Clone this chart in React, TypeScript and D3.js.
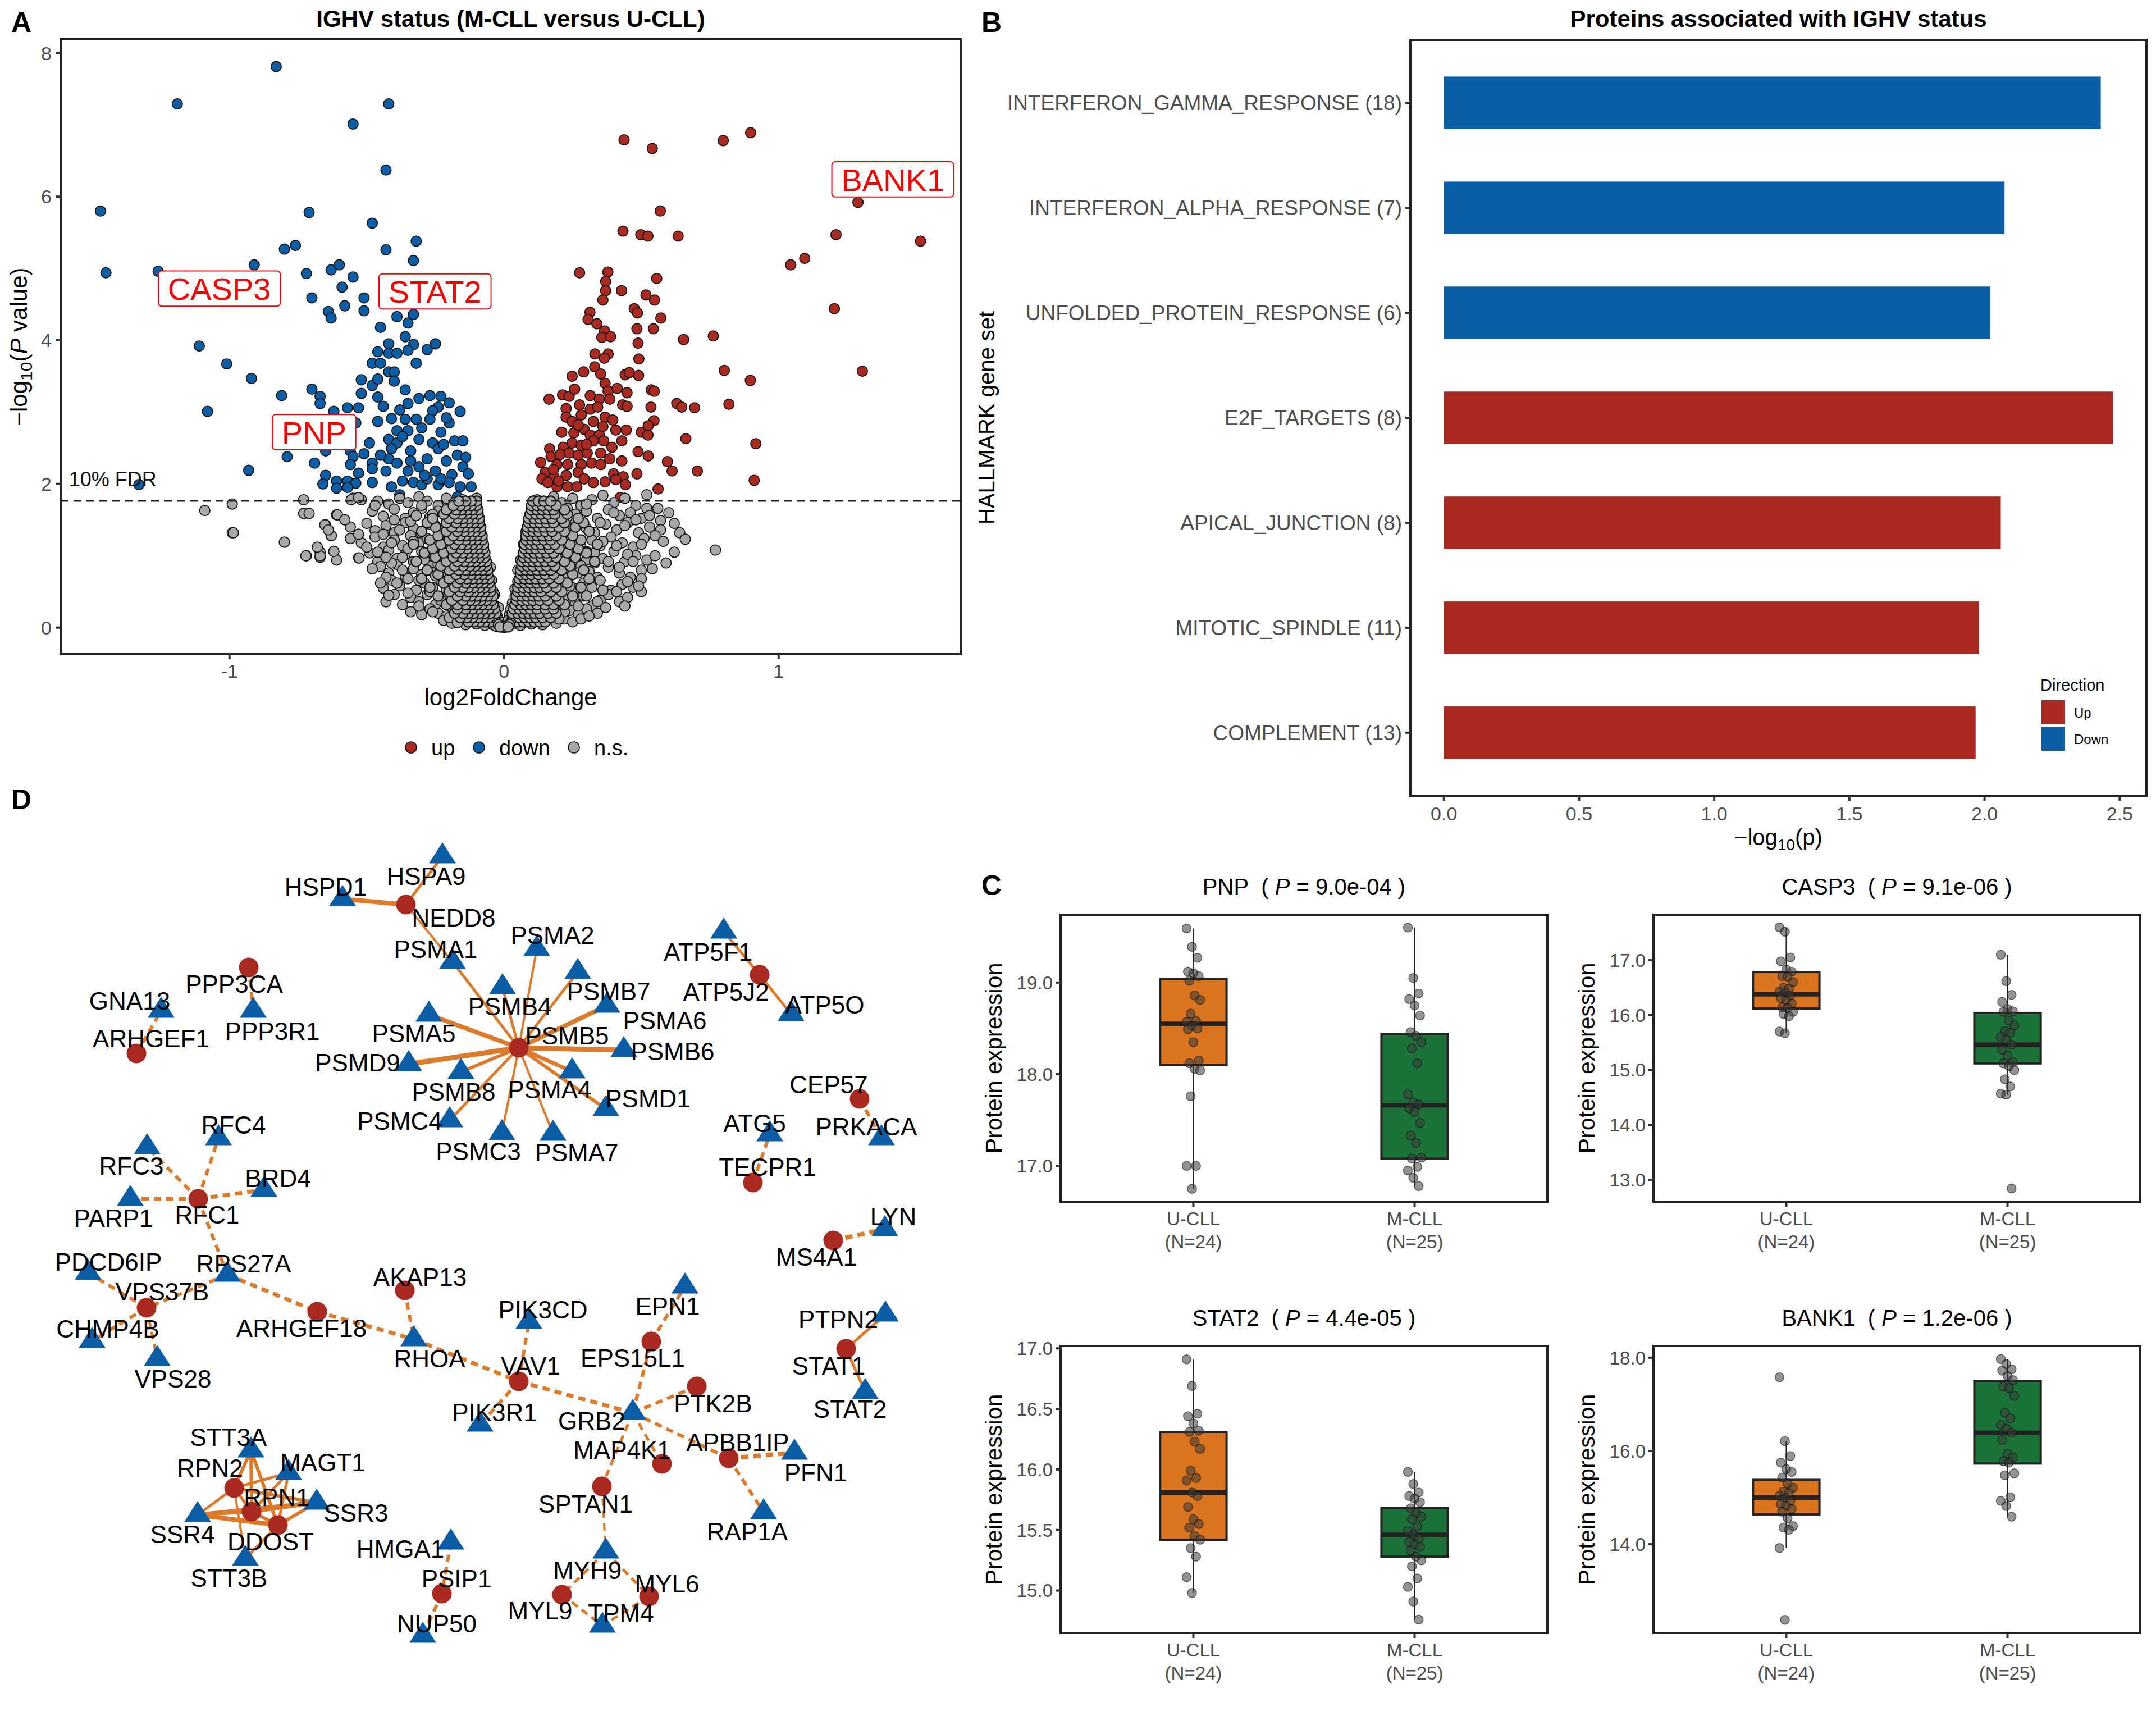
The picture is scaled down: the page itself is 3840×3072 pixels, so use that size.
import React, { useEffect } from "react";
import * as d3 from "d3";

const FONT = "'Liberation Sans', Arial, Helvetica, sans-serif";
const RED = "#AA2920";
const BLUE = "#0B5DA6";
const GREY = "#A8A8A8";
const ORANGE = "#DA741F";
const GREEN = "#1C7339";
const EDGE = "#DD7B2B";
const AXIS_TXT = "#4D4D4D";

// ---------- panel A: volcano ----------
const fdrLine = 1.765;

const upPoints = [
  [0.437, 6.79], [0.54, 6.67], [0.798, 6.78], [0.898, 6.89], [1.289, 5.92], [0.569, 5.8], [0.433, 5.52],
  [0.498, 5.47], [0.524, 5.45], [0.634, 5.45], [1.209, 5.47], [1.517, 5.38], [1.044, 5.05], [1.095, 5.14],
  [1.203, 4.44], [1.305, 3.57], [0.275, 4.94], [0.378, 4.95], [0.37, 4.82], [0.37, 4.69], [0.36, 4.56],
  [0.428, 4.69], [0.556, 4.86], [0.517, 4.63], [0.548, 4.56], [0.474, 4.44], [0.486, 4.38], [0.571, 4.31],
  [0.313, 4.39], [0.306, 4.29], [0.338, 4.23], [0.366, 4.13], [0.356, 4.04], [0.388, 4.05], [0.484, 4.16],
  [0.544, 4.16], [0.488, 3.96], [0.654, 4.01], [0.762, 4.06], [0.491, 3.74], [0.331, 3.81], [0.379, 3.81],
  [0.365, 3.75], [0.33, 3.63], [0.29, 3.56], [0.248, 3.5], [0.352, 3.53], [0.441, 3.52], [0.456, 3.55],
  [0.49, 3.51], [0.802, 3.58], [0.897, 3.44], [0.164, 3.18], [0.213, 3.24], [0.237, 3.22], [0.257, 3.32],
  [0.314, 3.23], [0.368, 3.4], [0.379, 3.29], [0.412, 3.33], [0.448, 3.27], [0.536, 3.31], [0.547, 3.29],
  [0.347, 3.18], [0.385, 3.18], [0.226, 3.05], [0.275, 3.1], [0.314, 3.04], [0.341, 3.07], [0.432, 3.1],
  [0.448, 3.08], [0.535, 3.07], [0.629, 3.12], [0.647, 3.07], [0.694, 3.06], [0.819, 3.11], [0.226, 2.93],
  [0.248, 2.87], [0.281, 2.96], [0.325, 2.87], [0.368, 2.93], [0.396, 2.89], [0.546, 2.88], [0.21, 2.72],
  [0.254, 2.71], [0.292, 2.76], [0.314, 2.68], [0.347, 2.68], [0.407, 2.75], [0.445, 2.75], [0.5, 2.72],
  [0.525, 2.81], [0.524, 2.68], [0.662, 2.63], [0.917, 2.56], [0.166, 2.49], [0.215, 2.51], [0.248, 2.57],
  [0.281, 2.54], [0.325, 2.6], [0.363, 2.6], [0.393, 2.51], [0.429, 2.6], [0.133, 2.3], [0.171, 2.38],
  [0.204, 2.41], [0.237, 2.43], [0.27, 2.4], [0.303, 2.43], [0.352, 2.43], [0.385, 2.35], [0.429, 2.32],
  [0.488, 2.45], [0.525, 2.39], [0.595, 2.31], [0.612, 2.18], [0.704, 2.18], [0.911, 2.05], [0.149, 2.16],
  [0.193, 2.27], [0.232, 2.27], [0.281, 2.27], [0.319, 2.29], [0.352, 2.27], [0.399, 2.14], [0.434, 2.1],
  [0.484, 2.14], [0.138, 2.07], [0.182, 2.1], [0.226, 2.12], [0.27, 2.16], [0.292, 2.07], [0.325, 2.02],
  [0.368, 2.03], [0.407, 2.06], [0.442, 1.99], [0.16, 2.02], [0.193, 1.96], [0.232, 1.96], [0.265, 1.96],
  [0.561, 1.93], [0.423, 1.81], [0.199, 2.04], [0.3, 2.55], [0.27, 2.82], [0.36, 2.8], [0.18, 2.2],
];

const downPoints = [
  [-0.83, 7.81], [-1.19, 7.29], [-0.42, 7.29], [-0.55, 7.01], [-0.43, 6.37], [-1.47, 5.8], [-0.71, 5.78],
  [-0.48, 5.63], [-0.32, 5.38], [-0.8, 5.27], [-0.76, 5.32], [-0.43, 5.26], [-0.33, 5.11], [-1.45, 4.94],
  [-1.26, 4.96], [-0.91, 5.05], [-0.72, 4.93], [-0.63, 4.98], [-0.6, 5.05], [-0.55, 4.88], [-0.59, 4.74],
  [-0.7, 4.59], [-0.58, 4.48], [-0.51, 4.59], [-0.51, 4.41], [-0.64, 4.4], [-0.63, 4.31], [-0.39, 4.33],
  [-0.33, 4.36], [-0.35, 4.24], [-0.45, 4.18], [-0.36, 4.05], [-0.42, 3.95], [-0.33, 3.94], [-0.25, 3.95],
  [-0.28, 3.87], [-0.46, 3.84], [-0.42, 3.82], [-0.39, 3.82], [-0.35, 3.86], [-0.32, 3.68], [-0.48, 3.68],
  [-0.45, 3.68], [-0.42, 3.56], [-0.4, 3.56], [-0.4, 3.43], [-1.11, 3.92], [-1.01, 3.67], [-0.92, 3.47],
  [-0.81, 3.23], [-0.7, 3.32], [-0.67, 3.22], [-0.67, 3.12], [-1.08, 3.01], [-0.52, 3.45], [-0.48, 3.37],
  [-0.46, 3.46], [-0.52, 3.26], [-0.46, 3.21], [-0.36, 3.31], [-0.31, 3.19], [-0.27, 3.23], [-0.23, 3.22],
  [-0.2, 3.13], [-0.16, 3.01], [-0.53, 3.06], [-0.57, 3.06], [-0.62, 3.01], [-0.44, 3.08], [-0.38, 3.03],
  [-0.35, 3.12], [-0.24, 3.07], [-0.26, 3.02], [-0.46, 2.87], [-0.41, 2.91], [-0.32, 2.9], [-0.27, 2.9],
  [-0.2, 2.85], [-0.23, 2.72], [-0.39, 2.74], [-0.35, 2.74], [-0.54, 2.85], [-0.42, 2.62], [-0.39, 2.57],
  [-0.31, 2.62], [-0.26, 2.57], [-0.18, 2.6], [-0.15, 2.6], [-0.49, 2.57], [-0.65, 2.46], [-0.56, 2.46],
  [-0.41, 2.49], [-0.34, 2.46], [-0.24, 2.49], [-0.17, 2.4], [-0.79, 2.38], [-0.69, 2.29], [-0.55, 2.38],
  [-0.51, 2.42], [-0.48, 2.29], [-0.42, 2.35], [-0.39, 2.29], [-0.34, 2.32], [-0.28, 2.35], [-0.21, 2.32],
  [-0.14, 2.37], [-0.56, 2.27], [-0.15, 2.24], [-0.53, 2.15], [-0.48, 2.21], [-0.43, 2.18], [-0.35, 2.18],
  [-0.31, 2.24], [-0.25, 2.18], [-0.19, 2.13], [-0.13, 2.14], [-0.93, 2.19], [-0.65, 2.12], [-0.66, 2.0],
  [-0.61, 2.04], [-0.57, 2.04], [-0.54, 2.01], [-0.61, 1.94], [-0.57, 1.95], [-1.33, 1.99], [-0.48, 2.02],
  [-0.41, 1.96], [-0.37, 2.04], [-0.33, 2.02], [-0.3, 1.99], [-0.24, 1.99], [-0.2, 2.02], [-0.16, 1.96],
  [-0.12, 1.96], [-0.38, 1.85], [-0.17, 1.82], [-0.28, 2.07], [-0.23, 2.07], [-0.37, 2.66], [-0.3, 2.78],
  [-0.22, 2.55], [-0.45, 2.4], [-0.29, 2.12], [-0.36, 2.9], [-0.21, 2.92],
];

const nsPoints = [
  [-0.73, 1.78], [-0.55, 1.8], [-0.52, 1.78], [-0.46, 1.76], [-0.42, 1.72], [-0.38, 1.8], [-0.35, 1.74],
  [-0.31, 1.82], [-0.28, 1.76], [-0.24, 1.7], [-0.21, 1.8], [-0.18, 1.74], [-0.15, 1.78], [-0.12, 1.72],
  [-0.1, 1.8], [0.12, 1.78], [0.15, 1.72], [0.18, 1.82], [0.21, 1.74], [0.25, 1.8], [0.28, 1.7], [0.32, 1.78],
  [0.36, 1.84], [0.4, 1.74], [0.44, 1.8], [0.48, 1.7], [0.52, 1.85], [0.56, 1.66],
  [-0.99, 1.72], [-1.09, 1.63], [-0.73, 1.59], [-0.71, 1.59], [-0.61, 1.57], [-0.48, 1.62], [-0.44, 1.55],
  [-0.4, 1.65], [-0.36, 1.52], [-0.33, 1.6], [-0.3, 1.66], [-0.27, 1.54], [-0.24, 1.62], [-0.21, 1.56],
  [-0.18, 1.64], [-0.15, 1.52], [-0.13, 1.6], [-0.11, 1.66], [-0.095, 1.55], [0.1, 1.58], [0.12, 1.66],
  [0.14, 1.52], [0.17, 1.62], [0.2, 1.55], [0.23, 1.66], [0.26, 1.58], [0.3, 1.62], [0.34, 1.52], [0.38, 1.64],
  [0.42, 1.56], [0.46, 1.6], [0.5, 1.52], [0.57, 1.49], [0.52, 1.66],
  [-0.99, 1.32], [-0.65, 1.43], [-0.56, 1.4], [-0.5, 1.45], [-0.47, 1.35], [-0.43, 1.42], [-0.4, 1.32],
  [-0.36, 1.46], [-0.33, 1.38], [-0.3, 1.3], [-0.27, 1.44], [-0.24, 1.36], [-0.21, 1.48], [-0.19, 1.32],
  [-0.16, 1.42], [-0.14, 1.35], [-0.12, 1.46], [-0.1, 1.38], [-0.085, 1.3], [0.08, 1.34], [0.1, 1.44],
  [0.12, 1.36], [0.14, 1.48], [0.17, 1.32], [0.2, 1.42], [0.23, 1.35], [0.26, 1.46], [0.3, 1.38], [0.33, 1.32],
  [0.37, 1.44], [0.41, 1.36], [0.45, 1.46], [0.49, 1.32], [0.53, 1.4], [0.64, 1.32], [0.57, 1.36],
  [-0.8, 1.19], [-0.63, 1.28], [-0.56, 1.24], [-0.52, 1.18], [-0.47, 1.26], [-0.44, 1.12], [-0.4, 1.22],
  [-0.37, 1.14], [-0.34, 1.28], [-0.31, 1.18], [-0.28, 1.24], [-0.25, 1.12], [-0.22, 1.26], [-0.2, 1.16],
  [-0.17, 1.22], [-0.15, 1.12], [-0.13, 1.28], [-0.11, 1.18], [-0.09, 1.24], [-0.075, 1.12], [0.07, 1.16],
  [0.085, 1.26], [0.1, 1.12], [0.12, 1.22], [0.14, 1.28], [0.16, 1.14], [0.19, 1.24], [0.22, 1.16],
  [0.25, 1.28], [0.28, 1.12], [0.32, 1.22], [0.35, 1.14], [0.39, 1.26], [0.43, 1.18], [0.47, 1.12],
  [0.51, 1.24], [0.66, 1.23], [0.77, 1.08],
  [-0.72, 1.0], [-0.67, 1.05], [-0.67, 0.98], [-0.62, 1.06], [-0.61, 0.94], [-0.53, 0.97], [-0.49, 1.04],
  [-0.46, 0.92], [-0.42, 1.08], [-0.39, 0.96], [-0.36, 1.02], [-0.33, 0.92], [-0.3, 1.06], [-0.27, 0.98],
  [-0.24, 0.9], [-0.22, 1.04], [-0.19, 0.94], [-0.17, 1.08], [-0.15, 0.98], [-0.13, 0.92], [-0.11, 1.04],
  [-0.09, 0.96], [-0.075, 1.06], [-0.065, 0.92], [0.06, 0.94], [0.07, 1.04], [0.085, 0.98], [0.1, 1.08],
  [0.12, 0.92], [0.14, 1.02], [0.16, 0.96], [0.18, 1.06], [0.21, 0.92], [0.24, 1.0], [0.27, 1.08], [0.3, 0.94],
  [0.33, 1.04], [0.36, 0.96], [0.4, 1.06], [0.44, 0.92], [0.48, 1.0], [0.52, 0.94], [0.59, 0.9], [0.62, 1.05],
  [-0.45, 0.85], [-0.42, 0.76], [-0.39, 0.88], [-0.36, 0.72], [-0.33, 0.82], [-0.3, 0.74], [-0.27, 0.86],
  [-0.25, 0.78], [-0.22, 0.7], [-0.2, 0.84], [-0.18, 0.76], [-0.16, 0.88], [-0.14, 0.72], [-0.12, 0.82],
  [-0.1, 0.74], [-0.085, 0.86], [-0.07, 0.78], [-0.06, 0.7], [-0.05, 0.84], [0.05, 0.8], [0.06, 0.72],
  [0.07, 0.88], [0.085, 0.76], [0.1, 0.84], [0.12, 0.72], [0.14, 0.86], [0.16, 0.78], [0.19, 0.7], [0.22, 0.82],
  [0.25, 0.74], [0.28, 0.86], [0.31, 0.78], [0.34, 0.7], [0.38, 0.84], [0.42, 0.76], [0.46, 0.7], [0.5, 0.8],
  [-0.44, 0.55], [-0.41, 0.66], [-0.38, 0.58], [-0.35, 0.68], [-0.32, 0.52], [-0.29, 0.62], [-0.26, 0.56],
  [-0.23, 0.66], [-0.21, 0.52], [-0.19, 0.6], [-0.17, 0.68], [-0.15, 0.54], [-0.13, 0.64], [-0.11, 0.56],
  [-0.095, 0.66], [-0.08, 0.52], [-0.065, 0.6], [-0.05, 0.56], [-0.045, 0.66], [-0.04, 0.5], [0.04, 0.54],
  [0.05, 0.64], [0.06, 0.58], [0.075, 0.68], [0.09, 0.52], [0.11, 0.62], [0.13, 0.56], [0.15, 0.66],
  [0.17, 0.52], [0.2, 0.6], [0.23, 0.68], [0.26, 0.54], [0.29, 0.62], [0.32, 0.56], [0.35, 0.66], [0.39, 0.52],
  [0.43, 0.6], [0.47, 0.56], [0.5, 0.5],
  [-0.43, 0.36], [-0.4, 0.46], [-0.37, 0.32], [-0.34, 0.42], [-0.31, 0.36], [-0.28, 0.46], [-0.25, 0.32],
  [-0.22, 0.42], [-0.2, 0.34], [-0.18, 0.46], [-0.16, 0.38], [-0.14, 0.3], [-0.12, 0.44], [-0.1, 0.36],
  [-0.085, 0.46], [-0.07, 0.32], [-0.055, 0.4], [-0.045, 0.34], [-0.035, 0.46], [-0.03, 0.3], [0.03, 0.34],
  [0.04, 0.44], [0.05, 0.3], [0.06, 0.4], [0.075, 0.34], [0.09, 0.46], [0.11, 0.32], [0.13, 0.42], [0.15, 0.36],
  [0.17, 0.46], [0.2, 0.32], [0.23, 0.4], [0.26, 0.34], [0.29, 0.44], [0.32, 0.3], [0.35, 0.38], [0.38, 0.46],
  [0.42, 0.36], [0.45, 0.42],
  [-0.34, 0.22], [-0.3, 0.18], [-0.27, 0.26], [-0.24, 0.2], [-0.21, 0.16], [-0.19, 0.28], [-0.17, 0.22],
  [-0.15, 0.16], [-0.13, 0.26], [-0.11, 0.2], [-0.095, 0.28], [-0.08, 0.16], [-0.065, 0.24], [-0.05, 0.18],
  [-0.04, 0.26], [-0.03, 0.2], [-0.025, 0.16], [-0.02, 0.28], [0.02, 0.18], [0.025, 0.26], [0.035, 0.22],
  [0.045, 0.16], [0.055, 0.28], [0.07, 0.2], [0.085, 0.26], [0.1, 0.16], [0.12, 0.24], [0.14, 0.18],
  [0.16, 0.28], [0.18, 0.2], [0.21, 0.16], [0.24, 0.24], [0.27, 0.18], [0.3, 0.26], [0.34, 0.2], [0.37, 0.28],
  [-0.22, 0.1], [-0.19, 0.06], [-0.16, 0.12], [-0.14, 0.04], [-0.12, 0.09], [-0.1, 0.05], [-0.085, 0.12],
  [-0.07, 0.03], [-0.06, 0.08], [-0.05, 0.12], [-0.04, 0.04], [-0.035, 0.09], [-0.03, 0.02], [-0.025, 0.06],
  [-0.02, 0.11], [-0.015, 0.03], [-0.01, 0.07], [-0.005, 0.01], [0, 0], [0.005, 0.02], [0.01, 0.06],
  [0.015, 0.1], [0.02, 0.03], [0.025, 0.08], [0.03, 0.13], [0.04, 0.05], [0.05, 0.1], [0.06, 0.03],
  [0.07, 0.08], [0.085, 0.12], [0.1, 0.05], [0.12, 0.1], [0.14, 0.04], [0.16, 0.11], [0.19, 0.06], [0.22, 0.12],
  [0.25, 0.08],
  [-0.722, 1.0], [-0.62, 1.06], [-0.653, 1.43], [-0.629, 1.28], [-0.607, 1.57], [-0.528, 0.97],
  [-0.557, 1.78], [-0.53, 1.81], [-0.56, 1.24], [-0.986, 1.32], [-0.8, 1.19], [-0.67, 1.0],
  [-0.3, 1.7], [-0.26, 1.58], [-0.34, 1.48], [-0.38, 1.36], [-0.44, 1.3], [-0.41, 1.18], [-0.46, 1.05],
  [-0.5, 1.12], [-0.35, 1.1], [-0.29, 0.95], [-0.41, 0.9], [-0.37, 0.8], [-0.43, 0.7], [-0.31, 0.66],
  [-0.39, 0.62], [-0.27, 0.5], [-0.35, 0.48], [-0.42, 0.45], [-0.23, 0.38], [-0.31, 0.3], [-0.26, 0.22],
  [-0.2, 0.14], [-0.17, 0.07], [-0.48, 0.82], [-0.45, 0.62], [-0.53, 1.3], [-0.58, 1.5], [-0.68, 1.12],
  [-0.64, 1.36], [-0.47, 1.7], [-0.32, 1.56], [-0.25, 1.42], [-0.22, 1.2], [-0.33, 1.2], [-0.24, 0.88],
  [-0.2, 0.58], [-0.25, 0.72], [-0.37, 0.98], [-0.43, 0.98], [-0.4, 1.5],
  [0.3, 1.72], [0.27, 1.5], [0.35, 1.46], [0.4, 1.6], [0.44, 1.42], [0.48, 1.5], [0.53, 1.56], [0.55, 1.28],
  [0.5, 1.16], [0.45, 1.02], [0.41, 1.14], [0.36, 1.2], [0.3, 1.06], [0.25, 1.16], [0.33, 0.9], [0.38, 0.92],
  [0.42, 0.84], [0.47, 0.92], [0.5, 0.68], [0.45, 0.64], [0.41, 0.5], [0.36, 0.52], [0.3, 0.44], [0.34, 0.36],
  [0.27, 0.3], [0.22, 0.22], [0.2, 0.12], [0.28, 0.12], [0.31, 0.16], [0.24, 0.58], [0.27, 0.76], [0.22, 0.96],
  [0.24, 1.34], [0.21, 1.58], [0.6, 1.6], [0.62, 1.45], [0.58, 1.2], [0.55, 1.0], [0.54, 0.82], [0.49, 0.58],
  [0.44, 0.3],
];

// dense inner arms of the V (non-significant proteins close to zero fold change)
const nsDense = [
  [-0.03, 0.08], [-0.05, 0.08], [-0.07, 0.08], [-0.09, 0.08], [-0.11, 0.08], [-0.13, 0.08],
  [0.03, 0.08], [0.05, 0.08], [0.07, 0.08], [0.09, 0.08], [0.11, 0.08], [0.13, 0.08], [0.15, 0.08],
  [-0.035, 0.14], [-0.055, 0.14], [-0.075, 0.14], [-0.095, 0.14], [-0.115, 0.14], [-0.135, 0.14], [-0.16, 0.14],
  [0.035, 0.14], [0.055, 0.14], [0.075, 0.14], [0.095, 0.14], [0.115, 0.14], [0.14, 0.14], [0.17, 0.14],
  [-0.03, 0.2], [-0.05, 0.2], [-0.07, 0.2], [-0.09, 0.2], [-0.11, 0.2], [-0.13, 0.2], [-0.15, 0.2], [-0.18, 0.2],
  [0.03, 0.2], [0.05, 0.2], [0.07, 0.2], [0.09, 0.2], [0.11, 0.2], [0.13, 0.2], [0.16, 0.2], [0.19, 0.2],
  [-0.035, 0.26], [-0.055, 0.26], [-0.075, 0.26], [-0.095, 0.26], [-0.115, 0.26], [-0.14, 0.26], [-0.17, 0.26],
  [0.035, 0.26], [0.055, 0.26], [0.075, 0.26], [0.095, 0.26], [0.12, 0.26], [0.15, 0.26], [0.18, 0.26],
  [-0.04, 0.32], [-0.06, 0.32], [-0.08, 0.32], [-0.1, 0.32], [-0.12, 0.32], [-0.14, 0.32], [-0.17, 0.32], [-0.21, 0.32],
  [0.04, 0.32], [0.06, 0.32], [0.08, 0.32], [0.1, 0.32], [0.12, 0.32], [0.15, 0.32], [0.18, 0.32], [0.22, 0.32],
  [-0.045, 0.38], [-0.065, 0.38], [-0.085, 0.38], [-0.105, 0.38], [-0.125, 0.38], [-0.15, 0.38], [-0.19, 0.38],
  [0.045, 0.38], [0.065, 0.38], [0.085, 0.38], [0.105, 0.38], [0.13, 0.38], [0.16, 0.38], [0.2, 0.38],
  [-0.04, 0.44], [-0.06, 0.44], [-0.08, 0.44], [-0.1, 0.44], [-0.12, 0.44], [-0.14, 0.44], [-0.17, 0.44], [-0.24, 0.44],
  [0.045, 0.44], [0.065, 0.44], [0.085, 0.44], [0.105, 0.44], [0.125, 0.44], [0.15, 0.44], [0.19, 0.44], [0.25, 0.44],
  [-0.05, 0.5], [-0.07, 0.5], [-0.09, 0.5], [-0.11, 0.5], [-0.13, 0.5], [-0.16, 0.5], [-0.2, 0.5],
  [0.05, 0.5], [0.07, 0.5], [0.09, 0.5], [0.11, 0.5], [0.135, 0.5], [0.17, 0.5], [0.21, 0.5],
  [-0.05, 0.56], [-0.07, 0.56], [-0.09, 0.56], [-0.11, 0.56], [-0.13, 0.56], [-0.15, 0.56], [-0.18, 0.56], [-0.27, 0.56],
  [0.05, 0.56], [0.07, 0.56], [0.09, 0.56], [0.11, 0.56], [0.13, 0.56], [0.155, 0.56], [0.19, 0.56], [0.28, 0.56],
  [-0.055, 0.62], [-0.075, 0.62], [-0.095, 0.62], [-0.115, 0.62], [-0.14, 0.62], [-0.17, 0.62], [-0.22, 0.62],
  [0.055, 0.62], [0.075, 0.62], [0.095, 0.62], [0.12, 0.62], [0.145, 0.62], [0.18, 0.62], [0.23, 0.62],
  [-0.055, 0.68], [-0.075, 0.68], [-0.095, 0.68], [-0.115, 0.68], [-0.135, 0.68], [-0.16, 0.68], [-0.2, 0.68], [-0.3, 0.68],
  [0.055, 0.68], [0.075, 0.68], [0.095, 0.68], [0.115, 0.68], [0.14, 0.68], [0.165, 0.68], [0.2, 0.68], [0.31, 0.68],
  [-0.06, 0.74], [-0.08, 0.74], [-0.1, 0.74], [-0.12, 0.74], [-0.145, 0.74], [-0.175, 0.74], [-0.24, 0.74],
  [0.06, 0.74], [0.08, 0.74], [0.1, 0.74], [0.125, 0.74], [0.15, 0.74], [0.18, 0.74], [0.25, 0.74],
  [-0.06, 0.8], [-0.08, 0.8], [-0.1, 0.8], [-0.12, 0.8], [-0.14, 0.8], [-0.165, 0.8], [-0.2, 0.8], [-0.28, 0.8],
  [0.06, 0.8], [0.08, 0.8], [0.1, 0.8], [0.12, 0.8], [0.145, 0.8], [0.17, 0.8], [0.21, 0.8], [0.29, 0.8],
  [-0.065, 0.86], [-0.085, 0.86], [-0.105, 0.86], [-0.125, 0.86], [-0.15, 0.86], [-0.18, 0.86], [-0.23, 0.86],
  [0.065, 0.86], [0.085, 0.86], [0.105, 0.86], [0.13, 0.86], [0.155, 0.86], [0.185, 0.86], [0.24, 0.86],
  [-0.065, 0.92], [-0.085, 0.92], [-0.105, 0.92], [-0.125, 0.92], [-0.145, 0.92], [-0.17, 0.92], [-0.21, 0.92], [-0.32, 0.92],
  [0.065, 0.92], [0.085, 0.92], [0.105, 0.92], [0.125, 0.92], [0.15, 0.92], [0.175, 0.92], [0.22, 0.92], [0.33, 0.92],
  [-0.07, 0.98], [-0.09, 0.98], [-0.11, 0.98], [-0.13, 0.98], [-0.155, 0.98], [-0.185, 0.98], [-0.25, 0.98],
  [0.07, 0.98], [0.09, 0.98], [0.11, 0.98], [0.135, 0.98], [0.16, 0.98], [0.19, 0.98], [0.26, 0.98],
  [-0.07, 1.04], [-0.09, 1.04], [-0.11, 1.04], [-0.13, 1.04], [-0.15, 1.04], [-0.175, 1.04], [-0.22, 1.04], [-0.29, 1.04],
  [0.07, 1.04], [0.09, 1.04], [0.11, 1.04], [0.13, 1.04], [0.155, 1.04], [0.18, 1.04], [0.23, 1.04], [0.3, 1.04],
  [-0.075, 1.1], [-0.095, 1.1], [-0.115, 1.1], [-0.135, 1.1], [-0.16, 1.1], [-0.19, 1.1], [-0.26, 1.1],
  [0.075, 1.1], [0.095, 1.1], [0.115, 1.1], [0.14, 1.1], [0.165, 1.1], [0.2, 1.1], [0.27, 1.1],
  [-0.075, 1.16], [-0.095, 1.16], [-0.115, 1.16], [-0.135, 1.16], [-0.155, 1.16], [-0.18, 1.16], [-0.23, 1.16], [-0.33, 1.16],
  [0.075, 1.16], [0.095, 1.16], [0.115, 1.16], [0.135, 1.16], [0.16, 1.16], [0.185, 1.16], [0.24, 1.16], [0.34, 1.16],
  [-0.08, 1.22], [-0.1, 1.22], [-0.12, 1.22], [-0.14, 1.22], [-0.165, 1.22], [-0.2, 1.22], [-0.27, 1.22],
  [0.08, 1.22], [0.1, 1.22], [0.12, 1.22], [0.145, 1.22], [0.17, 1.22], [0.21, 1.22], [0.28, 1.22],
  [-0.08, 1.28], [-0.1, 1.28], [-0.12, 1.28], [-0.14, 1.28], [-0.16, 1.28], [-0.185, 1.28], [-0.24, 1.28],
  [0.08, 1.28], [0.1, 1.28], [0.12, 1.28], [0.14, 1.28], [0.165, 1.28], [0.19, 1.28], [0.25, 1.28],
  [-0.085, 1.34], [-0.105, 1.34], [-0.125, 1.34], [-0.145, 1.34], [-0.17, 1.34], [-0.21, 1.34], [-0.3, 1.34],
  [0.085, 1.34], [0.105, 1.34], [0.125, 1.34], [0.15, 1.34], [0.175, 1.34], [0.22, 1.34], [0.31, 1.34],
  [-0.085, 1.4], [-0.105, 1.4], [-0.125, 1.4], [-0.145, 1.4], [-0.165, 1.4], [-0.19, 1.4], [-0.25, 1.4],
  [0.085, 1.4], [0.105, 1.4], [0.125, 1.4], [0.145, 1.4], [0.17, 1.4], [0.2, 1.4], [0.26, 1.4],
  [-0.09, 1.46], [-0.11, 1.46], [-0.13, 1.46], [-0.15, 1.46], [-0.175, 1.46], [-0.21, 1.46], [-0.28, 1.46],
  [0.09, 1.46], [0.11, 1.46], [0.13, 1.46], [0.155, 1.46], [0.18, 1.46], [0.22, 1.46], [0.29, 1.46],
  [-0.09, 1.52], [-0.11, 1.52], [-0.13, 1.52], [-0.15, 1.52], [-0.17, 1.52], [-0.2, 1.52], [-0.26, 1.52],
  [0.09, 1.52], [0.11, 1.52], [0.13, 1.52], [0.15, 1.52], [0.175, 1.52], [0.21, 1.52], [0.27, 1.52],
  [-0.095, 1.58], [-0.115, 1.58], [-0.135, 1.58], [-0.155, 1.58], [-0.18, 1.58], [-0.22, 1.58],
  [0.095, 1.58], [0.115, 1.58], [0.135, 1.58], [0.16, 1.58], [0.185, 1.58], [0.23, 1.58],
  [-0.095, 1.64], [-0.115, 1.64], [-0.135, 1.64], [-0.155, 1.64], [-0.175, 1.64], [-0.21, 1.64],
  [0.1, 1.64], [0.12, 1.64], [0.14, 1.64], [0.16, 1.64], [0.18, 1.64], [0.22, 1.64],
  [-0.1, 1.7], [-0.12, 1.7], [-0.14, 1.7], [-0.16, 1.7], [-0.185, 1.7],
  [0.1, 1.7], [0.12, 1.7], [0.14, 1.7], [0.165, 1.7], [0.19, 1.7],
  [-0.1, 1.76], [-0.12, 1.76], [-0.14, 1.76], [-0.165, 1.76], [0.105, 1.76], [0.125, 1.76], [0.145, 1.76], [0.17, 1.76],
  [-0.01, 0.02], [0.01, 0.02], [-0.02, 0.04], [0.02, 0.04], [0, 0.01], [-0.015, 0.01], [0.015, 0.01],
];

const volcanoLabels = [
  { name: "CASP3", fc: -1.037, p: 4.72 },
  { name: "STAT2", fc: -0.2515, p: 4.68 },
  { name: "PNP", fc: -0.692, p: 2.72 },
  { name: "BANK1", fc: 1.416, p: 6.24 },
];

const volcanoXTicks = [-1, 0, 1];
const volcanoYTicks = [0, 2, 4, 6, 8];
const statusLegend = [
  { label: "up", color: RED },
  { label: "down", color: BLUE },
  { label: "n.s.", color: GREY },
];

// ---------- panel B: hallmark bars ----------
const hallmarkSets = [
  "INTERFERON_GAMMA_RESPONSE (18)",
  "INTERFERON_ALPHA_RESPONSE (7)",
  "UNFOLDED_PROTEIN_RESPONSE (6)",
  "E2F_TARGETS (8)",
  "APICAL_JUNCTION (8)",
  "MITOTIC_SPINDLE (11)",
  "COMPLEMENT (13)",
];
const hallmarkScores = [2.43, 2.074, 2.02, 2.475, 2.06, 1.98, 1.967];
const hallmarkDirection = ["Down", "Down", "Down", "Up", "Up", "Up", "Up"];
const hallmarkTicks = [0, 0.5, 1, 1.5, 2, 2.5];

// ---------- panel C: box plots ----------
const cllGroups = ["U-CLL", "M-CLL"];
const cllCounts = ["(N=24)", "(N=25)"];

const pnpU = [19.59, 19.39, 19.27, 19.12, 19.1, 19.07, 19.02, 18.86, 18.81, 18.66, 18.58, 18.57, 18.53, 18.5, 18.49, 18.35, 18.15, 18.12, 18.06, 18.04, 17.76, 17.0, 17.0, 16.75];
const pnpM = [19.6, 19.05, 18.88, 18.82, 18.75, 18.64, 18.46, 18.42, 18.35, 18.28, 18.12, 17.78, 17.69, 17.67, 17.63, 17.59, 17.47, 17.33, 17.25, 17.09, 17.08, 16.99, 16.95, 16.87, 16.78];
const pnpStats = [[16.75, 18.1, 18.55, 19.04, 19.59], [16.78, 17.08, 17.66, 18.44, 19.6]];

const casp3U = [17.6, 17.52, 17.05, 16.98, 16.83, 16.79, 16.71, 16.7, 16.6, 16.5, 16.48, 16.43, 16.4, 16.36, 16.31, 16.27, 16.21, 16.14, 16.13, 16.06, 16.02, 15.98, 15.7, 15.67];
const casp3M = [17.1, 16.62, 16.37, 16.24, 16.11, 16.07, 16.06, 15.9, 15.81, 15.71, 15.68, 15.6, 15.55, 15.46, 15.37, 15.26, 15.14, 15.12, 15.07, 15.0, 14.83, 14.7, 14.57, 14.55, 12.84];
const casp3Stats = [[15.67, 16.12, 16.38, 16.785, 17.59], [14.55, 15.12, 15.46, 16.04, 17.1]];

const stat2U = [16.91, 16.69, 16.46, 16.44, 16.38, 16.32, 16.31, 16.23, 16.17, 15.99, 15.93, 15.91, 15.81, 15.78, 15.69, 15.59, 15.55, 15.52, 15.45, 15.42, 15.35, 15.28, 15.11, 14.98];
const stat2M = [15.98, 15.88, 15.81, 15.78, 15.76, 15.73, 15.68, 15.64, 15.61, 15.59, 15.53, 15.49, 15.46, 15.43, 15.4, 15.38, 15.36, 15.33, 15.28, 15.25, 15.2, 15.1, 15.03, 14.91, 14.76];
const stat2Stats = [[14.98, 15.42, 15.81, 16.31, 16.91], [14.76, 15.28, 15.46, 15.68, 15.98]];

const bank1U = [17.58, 16.21, 15.89, 15.75, 15.61, 15.55, 15.43, 15.3, 15.21, 15.13, 15.1, 15.04, 14.99, 14.93, 14.86, 14.82, 14.76, 14.7, 14.56, 14.39, 14.36, 14.31, 13.92, 12.38];
const bank1M = [17.97, 17.86, 17.75, 17.72, 17.61, 17.52, 17.38, 17.35, 17.18, 16.82, 16.7, 16.56, 16.48, 16.39, 16.23, 15.94, 15.86, 15.78, 15.75, 15.52, 15.48, 15.01, 14.93, 14.82, 14.59];
const bank1Stats = [[13.92, 14.64, 15.0, 15.38, 16.21], [14.59, 15.73, 16.39, 17.5, 17.97]];

// ---------- panel D: network (layout coordinates) ----------
const netNodes = [
  ["NEDD8", "up", 723, 1611, 808, 1634], ["HSPA9", "down", 788, 1525, 759, 1560],
  ["HSPD1", "down", 610, 1601, 580, 1579], ["PSMA1", "down", 806, 1713, 776, 1690],
  ["PSMA2", "down", 956, 1690, 984, 1665], ["PSMB7", "down", 1029, 1731, 1084, 1765],
  ["PSMB4", "down", 895, 1758, 908, 1792], ["PSMA6", "down", 1081, 1791, 1184, 1817],
  ["PSMA5", "down", 764, 1807, 737, 1840], ["PSMB5", "up", 924, 1866, 1010, 1844],
  ["PSMB6", "down", 1111, 1870, 1198, 1872], ["PSMD9", "down", 728, 1895, 637, 1892],
  ["PSMB8", "down", 821, 1909, 808, 1944], ["PSMA4", "down", 1019, 1908, 979, 1940],
  ["PSMD1", "down", 1079, 1975, 1154, 1956], ["PSMC4", "down", 801, 1995, 712, 1996],
  ["PSMC3", "down", 894, 2018, 852, 2050], ["PSMA7", "down", 985, 2019, 1027, 2052],
  ["ATP5F1", "down", 1289, 1659, 1261, 1695], ["ATP5J2", "up", 1353, 1736, 1293, 1766],
  ["ATP5O", "down", 1409, 1806, 1469, 1789], ["PPP3CA", "up", 443, 1723, 417, 1752],
  ["PPP3R1", "down", 451, 1800, 485, 1836], ["GNA13", "down", 287, 1800, 231, 1782],
  ["ARHGEF1", "up", 243, 1876, 269, 1849], ["CEP57", "up", 1531, 1957, 1476, 1931],
  ["PRKACA", "down", 1570, 2027, 1543, 2006], ["ATG5", "down", 1371, 2020, 1344, 2000],
  ["TECPR1", "up", 1341, 2106, 1367, 2078], ["LYN", "down", 1576, 2189, 1591, 2166],
  ["MS4A1", "up", 1484, 2209, 1454, 2238], ["RFC4", "down", 389, 2027, 416, 2003],
  ["RFC3", "down", 262, 2043, 234, 2076], ["BRD4", "down", 470, 2119, 495, 2098],
  ["PARP1", "down", 232, 2135, 202, 2169], ["RFC1", "up", 353, 2135, 369, 2163],
  ["PDCD6IP", "down", 157, 2267, 193, 2247], ["RPS27A", "down", 405, 2270, 434, 2250],
  ["VPS37B", "up", 261, 2329, 289, 2300], ["CHMP4B", "down", 164, 2388, 192, 2366],
  ["VPS28", "down", 280, 2420, 308, 2455], ["AKAP13", "up", 721, 2298, 748, 2274],
  ["ARHGEF18", "up", 565, 2336, 537, 2365], ["RHOA", "down", 737, 2385, 765, 2419],
  ["PIK3CD", "down", 942, 2354, 967, 2332], ["EPN1", "down", 1220, 2291, 1189, 2326],
  ["EPS15L1", "up", 1160, 2389, 1127, 2418], ["VAV1", "up", 924, 2460, 945, 2432],
  ["PIK3R1", "down", 855, 2537, 881, 2515], ["GRB2", "down", 1127, 2516, 1054, 2530],
  ["PTK2B", "up", 1241, 2469, 1270, 2499], ["PTPN2", "down", 1577, 2341, 1493, 2349],
  ["STAT1", "up", 1507, 2402, 1476, 2432], ["STAT2", "down", 1541, 2479, 1514, 2509],
  ["MAP4K1", "up", 1179, 2607, 1108, 2582], ["APBB1IP", "up", 1298, 2597, 1314, 2568],
  ["PFN1", "down", 1415, 2587, 1453, 2622], ["RAP1A", "down", 1360, 2693, 1331, 2727],
  ["SPTAN1", "up", 1072, 2647, 1043, 2678], ["MYH9", "down", 1079, 2763, 1046, 2796],
  ["MYL9", "up", 1001, 2840, 962, 2868], ["MYL6", "up", 1156, 2843, 1188, 2820],
  ["TPM4", "down", 1073, 2895, 1106, 2872], ["HMGA1", "down", 803, 2747, 713, 2758],
  ["PSIP1", "up", 787, 2838, 813, 2811], ["NUP50", "down", 753, 2913, 778, 2891],
  ["STT3A", "down", 447, 2583, 407, 2559], ["MAGT1", "down", 514, 2623, 575, 2604],
  ["RPN2", "up", 417, 2650, 374, 2614], ["RPN1", "up", 448, 2692, 493, 2666],
  ["SSR3", "down", 564, 2676, 634, 2694], ["SSR4", "down", 352, 2698, 325, 2732],
  ["DDOST", "up", 495, 2716, 482, 2745], ["STT3B", "down", 437, 2776, 408, 2810],
];

// [from, to, width]
const solidEdges = [
  ["NEDD8", "HSPD1", 8], ["NEDD8", "HSPA9", 5], ["NEDD8", "PSMA1", 4], ["PSMB5", "PSMA1", 5],
  ["PSMB5", "PSMA2", 4], ["PSMB5", "PSMB7", 5], ["PSMB5", "PSMB4", 5], ["PSMB5", "PSMA6", 8],
  ["PSMB5", "PSMA5", 8], ["PSMB5", "PSMB6", 9], ["PSMB5", "PSMD9", 9], ["PSMB5", "PSMB8", 6],
  ["PSMB5", "PSMA4", 7], ["PSMB5", "PSMD1", 6], ["PSMB5", "PSMC4", 5], ["PSMB5", "PSMC3", 4],
  ["PSMB5", "PSMA7", 4], ["ATP5J2", "ATP5F1", 5], ["ATP5J2", "ATP5O", 5], ["STAT1", "PTPN2", 5],
  ["STAT1", "STAT2", 5], ["STT3A", "RPN2", 6], ["STT3A", "RPN1", 6], ["STT3A", "DDOST", 6],
  ["SSR4", "RPN2", 5], ["SSR4", "SSR3", 8], ["SSR4", "DDOST", 8], ["SSR4", "RPN1", 6],
  ["MAGT1", "RPN1", 5], ["MAGT1", "RPN2", 5], ["MAGT1", "DDOST", 5], ["SSR3", "RPN2", 6],
  ["SSR3", "DDOST", 6], ["SSR3", "RPN1", 7], ["STT3B", "DDOST", 5], ["STT3B", "RPN2", 4],
  ["RPN1", "DDOST", 6], ["RPN2", "RPN1", 5],
];
const dashedEdges = [
  ["PPP3CA", "PPP3R1", 6], ["ARHGEF1", "GNA13", 6], ["CEP57", "PRKACA", 6], ["TECPR1", "ATG5", 6],
  ["MS4A1", "LYN", 8], ["RFC1", "RFC4", 6], ["RFC1", "RFC3", 6], ["RFC1", "BRD4", 7], ["RFC1", "PARP1", 7],
  ["RFC1", "RPS27A", 6], ["RPS27A", "VPS37B", 6], ["RPS27A", "ARHGEF18", 7], ["VPS37B", "PDCD6IP", 6],
  ["VPS37B", "CHMP4B", 6], ["VPS37B", "VPS28", 5], ["ARHGEF18", "RHOA", 7], ["AKAP13", "RHOA", 6],
  ["RHOA", "VAV1", 7], ["VAV1", "PIK3CD", 6], ["VAV1", "PIK3R1", 6], ["VAV1", "GRB2", 7],
  ["GRB2", "EPS15L1", 6], ["EPS15L1", "EPN1", 6], ["GRB2", "PTK2B", 6], ["GRB2", "APBB1IP", 6],
  ["GRB2", "MAP4K1", 5], ["GRB2", "SPTAN1", 5], ["APBB1IP", "PFN1", 8], ["APBB1IP", "RAP1A", 6],
  ["SPTAN1", "MYH9", 4], ["MYH9", "MYL9", 5], ["MYH9", "MYL6", 5], ["MYL9", "TPM4", 5],
  ["MYL6", "TPM4", 5], ["HMGA1", "PSIP1", 6], ["PSIP1", "NUP50", 6],
];

// ---------- helpers ----------
let measureCtx = null;
function textWidth(s, size, weight = "normal") {
  if (!measureCtx) measureCtx = document.createElement("canvas").getContext("2d");
  measureCtx.font = `${weight} ${size}px ${FONT}`;
  return measureCtx.measureText(s).width;
}

const fmt1 = d3.format(".1f");

function PanelLetter({ x, y, t }) {
  return (
    <text x={x} y={y} fontSize={50} fontWeight="bold" fill="#000">
      {t}
    </text>
  );
}

function VolcanoPanel() {
  const box = { l: 108, r: 1711, t: 70, b: 1165 };
  const x = d3.scaleLinear().domain([-1.615, 1.663]).range([box.l, box.r]);
  const y = d3.scaleLinear().domain([-0.37, 8.19]).range([box.b, box.t]);
  const groups = [
    { key: "up", pts: upPoints, fill: RED },
    { key: "down", pts: downPoints, fill: BLUE },
    { key: "ns", pts: nsPoints, fill: GREY },
    { key: "nsd", pts: nsDense, fill: GREY },
  ];
  const lblSize = 56;
  return (
    <g>
      <text x={(box.l + box.r) / 2} y={48} textAnchor="middle" fontSize={42} fontWeight="bold">
        IGHV status (M-CLL versus U-CLL)
      </text>
      <defs>
        <clipPath id="vclip">
          <rect x={box.l} y={box.t} width={box.r - box.l} height={box.b - box.t} />
        </clipPath>
      </defs>
      <g clipPath="url(#vclip)">
        {groups.map((g) =>
          g.pts.map(([fc, p], i) => (
            <circle key={g.key + i} cx={x(fc)} cy={y(p)} r={9.2} fill={g.fill} stroke="#111" strokeWidth={g.key === "nsd" ? 2.1 : 1.7} />
          ))
        )}
      </g>
      <line x1={box.l} x2={box.r} y1={y(fdrLine)} y2={y(fdrLine)} stroke="#222" strokeWidth={3} strokeDasharray="14 9" />
      <text x={x(-1.585)} y={y(1.97)} fontSize={36} fill="#111">
        10% FDR
      </text>
      {volcanoLabels.map((d) => {
        const w = textWidth(d.name, lblSize) + lblSize * 0.6;
        const h = lblSize * 1.12;
        return (
          <g key={d.name}>
            <rect x={x(d.fc) - w / 2} y={y(d.p) - h / 2} width={w} height={h} rx={6} fill="#fff" stroke="#FF0000" strokeWidth={2} />
            <text x={x(d.fc)} y={y(d.p)} dy="0.36em" textAnchor="middle" fontSize={lblSize} fill="#FF0000">
              {d.name}
            </text>
          </g>
        );
      })}
      <rect x={box.l} y={box.t} width={box.r - box.l} height={box.b - box.t} fill="none" stroke="#222" strokeWidth={4} />
      {volcanoXTicks.map((t) => (
        <g key={"x" + t}>
          <line x1={x(t)} x2={x(t)} y1={box.b} y2={box.b + 9} stroke="#333" strokeWidth={4} />
          <text x={x(t)} y={box.b + 42} textAnchor="middle" fontSize={34} fill={AXIS_TXT}>
            {t}
          </text>
        </g>
      ))}
      {volcanoYTicks.map((t) => (
        <g key={"y" + t}>
          <line x1={box.l - 9} x2={box.l} y1={y(t)} y2={y(t)} stroke="#333" strokeWidth={4} />
          <text x={box.l - 16} y={y(t)} dy="0.36em" textAnchor="end" fontSize={34} fill={AXIS_TXT}>
            {t}
          </text>
        </g>
      ))}
      <text x={(box.l + box.r) / 2} y={1256} textAnchor="middle" fontSize={42}>
        log2FoldChange
      </text>
      <text transform={`translate(48, ${(box.t + box.b) / 2}) rotate(-90)`} textAnchor="middle" fontSize={42}>
        <tspan>−log</tspan>
        <tspan fontSize={30} dy={9}>10</tspan>
        <tspan dy={-9}>(</tspan>
        <tspan fontStyle="italic">P</tspan>
        <tspan> value)</tspan>
      </text>
      {statusLegend.map((d, i) => {
        const cx = [732, 853, 1022][i];
        return (
          <g key={d.label}>
            <circle cx={cx} cy={1331} r={10} fill={d.color} stroke="#111" strokeWidth={1.6} />
            <text x={cx + 36} y={1331} dy="0.36em" fontSize={38}>
              {d.label}
            </text>
          </g>
        );
      })}
    </g>
  );
}

function HallmarkPanel() {
  const box = { l: 2512, r: 3823, t: 71, b: 1417 };
  const x = d3.scaleLinear().domain([-0.124, 2.599]).range([box.l, box.r]);
  const y = d3.scalePoint().domain(hallmarkSets).range([box.t, box.b]).padding(0.6);
  const bh = y.step() * 0.5;
  const color = d3.scaleOrdinal().domain(["Up", "Down"]).range([RED, BLUE]);
  return (
    <g>
      <text x={(box.l + box.r) / 2} y={48} textAnchor="middle" fontSize={42} fontWeight="bold">
        Proteins associated with IGHV status
      </text>
      {hallmarkSets.map((c, i) => (
        <rect key={c} x={x(0)} y={y(c) - bh / 2} width={x(hallmarkScores[i]) - x(0)} height={bh} fill={color(hallmarkDirection[i])} />
      ))}
      <rect x={box.l} y={box.t} width={box.r - box.l} height={box.b - box.t} fill="none" stroke="#222" strokeWidth={4} />
      {hallmarkSets.map((c) => (
        <g key={"t" + c}>
          <line x1={box.l - 9} x2={box.l} y1={y(c)} y2={y(c)} stroke="#333" strokeWidth={4} />
          <text x={box.l - 15} y={y(c)} dy="0.36em" textAnchor="end" fontSize={37} fill={AXIS_TXT}>
            {c}
          </text>
        </g>
      ))}
      {hallmarkTicks.map((t) => (
        <g key={"x" + t}>
          <line x1={x(t)} x2={x(t)} y1={box.b} y2={box.b + 9} stroke="#333" strokeWidth={4} />
          <text x={x(t)} y={box.b + 44} textAnchor="middle" fontSize={34} fill={AXIS_TXT}>
            {fmt1(t)}
          </text>
        </g>
      ))}
      <text x={(box.l + box.r) / 2} y={1505} textAnchor="middle" fontSize={40}>
        <tspan>−log</tspan>
        <tspan fontSize={28} dy={9}>10</tspan>
        <tspan dy={-9}>(p)</tspan>
      </text>
      <text transform={`translate(1771, ${(box.t + box.b) / 2}) rotate(-90)`} textAnchor="middle" fontSize={40}>
        HALLMARK gene set
      </text>
      <text x={3634} y={1230} fontSize={29}>
        Direction
      </text>
      {["Up", "Down"].map((d, i) => (
        <g key={d}>
          <rect x={3636} y={1247 + i * 47} width={42} height={43} fill={color(d)} />
          <text x={3694} y={1269 + i * 47} dy="0.36em" fontSize={24}>
            {d}
          </text>
        </g>
      ))}
    </g>
  );
}

function BoxPanel({ x0, y0, gene, pval, values, stats, domain, ticks }) {
  const w = 867;
  const h = 511;
  const x = d3.scalePoint().domain(cllGroups).range([x0, x0 + w]).padding(0.6);
  const y = d3.scaleLinear().domain(domain).range([y0 + h, y0]);
  const bw = x.step() * 0.3;
  const fills = [ORANGE, GREEN];
  return (
    <g>
      <text x={x0 + w / 2} y={y0 - 36} textAnchor="middle" fontSize={40}>
        <tspan>{gene}</tspan>
        <tspan>{"\u00a0\u00a0(\u00a0"}</tspan>
        <tspan fontStyle="italic">P</tspan>
        <tspan>{`\u00a0=\u00a0${pval}\u00a0)`}</tspan>
      </text>
      {cllGroups.map((g, gi) => {
        const [lo, q1, med, q3, hi] = stats[gi];
        const cx = x(g);
        return (
          <g key={g}>
            <line x1={cx} x2={cx} y1={y(lo)} y2={y(hi)} stroke="#222" strokeWidth={2} />
            <rect x={cx - bw / 2} y={y(q3)} width={bw} height={y(q1) - y(q3)} fill={fills[gi]} stroke="#222" strokeWidth={4} />
            <line x1={cx - bw / 2} x2={cx + bw / 2} y1={y(med)} y2={y(med)} stroke="#222" strokeWidth={8} />
            {values[gi].map((v, i) => {
              const jitter = ((((i * 37) % 11) - 5) / 5) * 12;
              return (
                <circle key={i} cx={cx + jitter} cy={y(v)} r={8} fill="#3a3a3a" fillOpacity={0.55} stroke="#111" strokeOpacity={0.6} strokeWidth={1.5} />
              );
            })}
          </g>
        );
      })}
      <rect x={x0} y={y0} width={w} height={h} fill="none" stroke="#222" strokeWidth={4} />
      {ticks.map((t) => (
        <g key={t}>
          <line x1={x0 - 9} x2={x0} y1={y(t)} y2={y(t)} stroke="#333" strokeWidth={4} />
          <text x={x0 - 14} y={y(t)} dy="0.36em" textAnchor="end" fontSize={33} fill={AXIS_TXT}>
            {fmt1(t)}
          </text>
        </g>
      ))}
      {cllGroups.map((g, gi) => (
        <g key={"x" + g}>
          <line x1={x(g)} x2={x(g)} y1={y0 + h} y2={y0 + h + 9} stroke="#333" strokeWidth={4} />
          <text x={x(g)} y={y0 + h + 42} textAnchor="middle" fontSize={33} fill={AXIS_TXT}>
            {g}
          </text>
          <text x={x(g)} y={y0 + h + 83} textAnchor="middle" fontSize={33} fill={AXIS_TXT}>
            {cllCounts[gi]}
          </text>
        </g>
      ))}
      <text transform={`translate(${x0 - 105}, ${y0 + h / 2}) rotate(-90)`} textAnchor="middle" fontSize={41}>
        Protein expression
      </text>
    </g>
  );
}

function NetworkPanel() {
  const x = d3.scaleLinear().domain([0, 1700]).range([0, 1700]);
  const y = d3.scaleLinear().domain([1400, 3000]).range([1400, 3000]);
  const byName = new Map(netNodes.map((n) => [n[0], n]));
  const edgeLine = ([a, b, wd], dashed, i) => {
    const na = byName.get(a);
    const nb = byName.get(b);
    return (
      <line
        key={(dashed ? "d" : "s") + i}
        x1={x(na[2])}
        y1={y(na[3])}
        x2={x(nb[2])}
        y2={y(nb[3])}
        stroke={EDGE}
        strokeWidth={wd}
        strokeDasharray={dashed ? "13 9" : undefined}
      />
    );
  };
  const tri = d3.symbol().type(d3.symbolTriangle).size(900);
  return (
    <g>
      {solidEdges.map((e, i) => edgeLine(e, false, i))}
      {dashedEdges.map((e, i) => edgeLine(e, true, i))}
      {netNodes.map(([name, kind, nx, ny]) =>
        kind === "up" ? (
          <circle key={name} cx={x(nx)} cy={y(ny)} r={17.5} fill={RED} />
        ) : (
          <path key={name} d={tri()} transform={`translate(${x(nx)},${y(ny)}) scale(1.05,0.95)`} fill={BLUE} />
        )
      )}
      {netNodes.map(([name, , , , lx, ly]) => (
        <text key={"l" + name} x={x(lx)} y={y(ly)} dy="0.36em" textAnchor="middle" fontSize={44} fill="#000">
          {name}
        </text>
      ))}
    </g>
  );
}

export default function App() {
  useEffect(() => {
    document.body.style.margin = "0";
  }, []);
  return (
    <svg width={3840} height={3072} viewBox="0 0 3840 3072" style={{ display: "block", background: "#fff" }} fontFamily={FONT}>
      <rect width={3840} height={3072} fill="#fff" />
      <PanelLetter x={20} y={57} t="A" />
      <PanelLetter x={1748} y={57} t="B" />
      <PanelLetter x={1748} y={1594} t="C" />
      <PanelLetter x={20} y={1441} t="D" />
      <VolcanoPanel />
      <HallmarkPanel />
      <BoxPanel x0={1889} y0={1629} gene="PNP" pval="9.0e-04" values={[pnpU, pnpM]} stats={pnpStats} domain={[16.61, 19.74]} ticks={[17, 18, 19]} />
      <BoxPanel x0={2945} y0={1629} gene="CASP3" pval="9.1e-06" values={[casp3U, casp3M]} stats={casp3Stats} domain={[12.6, 17.83]} ticks={[13, 14, 15, 16, 17]} />
      <BoxPanel x0={1889} y0={2397} gene="STAT2" pval="4.4e-05" values={[stat2U, stat2M]} stats={stat2Stats} domain={[14.65, 17.02]} ticks={[15, 15.5, 16, 16.5, 17]} />
      <BoxPanel x0={2945} y0={2397} gene="BANK1" pval="1.2e-06" values={[bank1U, bank1M]} stats={bank1Stats} domain={[12.1, 18.25]} ticks={[14, 16, 18]} />
      <NetworkPanel />
    </svg>
  );
}
